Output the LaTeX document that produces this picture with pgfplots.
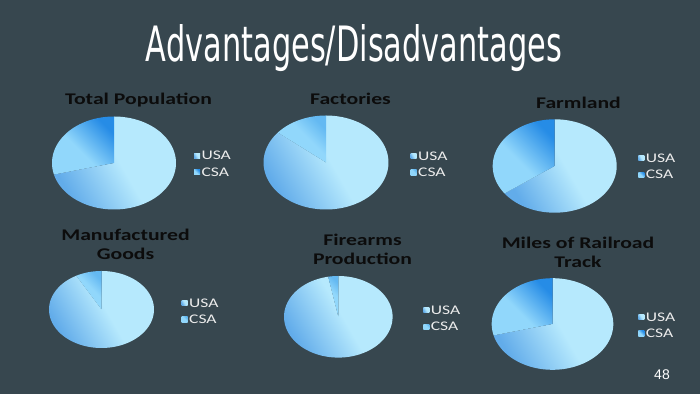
\documentclass[border=0pt]{standalone}
\usepackage{pgfplots}
\pgfplotsset{compat=1.18}
\usepackage{fontspec}
\setmainfont{Carlito}
\newfontfamily\titlefont{DejaVu Sans}
\newfontfamily\numfont{Liberation Sans}
\definecolor{bg}{RGB}{55,71,79}
\definecolor{usaL}{RGB}{182,233,253}
\definecolor{usaD}{RGB}{98,172,234}
\definecolor{csaD}{RGB}{38,140,230}
\definecolor{csaM}{RGB}{100,185,242}
\definecolor{csaL}{RGB}{145,215,251}
\definecolor{ttl}{RGB}{12,12,12}
\definecolor{legtxt}{RGB}{236,236,236}

\pgfdeclarehorizontalshading{usashade}{100bp}{color(0bp)=(usaD); color(25bp)=(usaD); color(52bp)=(usaL); color(100bp)=(usaL)}
\pgfdeclarehorizontalshading{csashade}{100bp}{color(0bp)=(csaL); color(45bp)=(csaL); color(75bp)=(csaD); color(100bp)=(csaD)}
\pgfdeclarehorizontalshading{csasmallshade}{100bp}{color(0bp)=(csaL); color(55bp)=(csaL); color(75bp)=(csaM); color(100bp)=(csaM)}

\pgfplotsset{
  piestyle/.style={hide axis, scale only axis, xmin=-1, xmax=1, ymin=-1, ymax=1,
    anchor=center, clip=false,
    legend cell align=left,
    legend image code/.code={\path[##1] (0bp,-2.6bp) rectangle (6bp,2.6bp);},
    legend style={draw=none, fill=none, text=legtxt, anchor=west, inner sep=0pt,
      outer sep=0pt, row sep=8bp,
      font=\fontsize{13.2bp}{15bp}\selectfont,
      nodes={inner sep=0pt, text height=8.5bp, text depth=0bp},
      column sep=1.5bp},
  },
  usa/.style={draw=none, shade, shading=usashade, shading angle=30},
  csa/.style={draw=none, shade, shading=csashade, shading angle=45},
  csasmall/.style={draw=none, shade, shading=csasmallshade, shading angle=45},
}

% #1 cx, #2 cy, #3 rx, #4 ry (pixels), #5 USA %, #6 CSA %, #7 legend x, #8 legend mid y
\newcommand\pie[8]{%
  \pgfmathsetmacro\W{2*#3}%
  \pgfmathsetmacro\H{2*#4}%
  \pgfmathsetmacro\LX{(#7-(#1-#3))/(2*#3)}%
  \pgfmathsetmacro\LY{(#2+#4-#8)/(2*#4)}%
  \pgfmathsetmacro\UA{90-3.6*#5}%
  \pgfmathsetmacro\CB{90+3.6*#6}%
  \pgfmathtruncatemacro\small{#6<20 ? 1 : 0}%
  \ifnum\small=1 \def\cstyle{csasmall}\else\def\cstyle{csa}\fi
  \begin{axis}[piestyle, at={(#1bp,394bp-#2bp)}, width=\W bp, height=\H bp,
      legend style={at={(\LX,\LY)}}]
    \addplot[usa, domain=\UA:90, samples=90, variable=\t]
      ({cos(t)},{sin(t)}) -- (axis cs:0,0) -- cycle;
    \addlegendentry{\scalebox{1.33}[1]{USA}}
    \addplot[\cstyle, domain=90:\CB, samples=60, variable=\t]
      ({cos(t)},{sin(t)}) -- (axis cs:0,0) -- cycle;
    \addlegendentry{\scalebox{1.33}[1]{CSA}}
  \end{axis}%
}

\newcommand\ptitle[3]{%
  \node[anchor=base, text=ttl, inner sep=0pt,
    font=\fontsize{16.3bp}{19bp}\selectfont\bfseries] at (#1bp,394bp-#2bp)
    {\scalebox{1.33}[1]{\begin{tabular}[t]{@{}c@{}}#3\end{tabular}}};%
}

\begin{document}
\begin{tikzpicture}
  \fill[bg] (0,0) rectangle (700bp,394bp);
  \useasboundingbox (0,0) rectangle (700bp,394bp);

  \node[anchor=base, text=white, inner sep=0pt] at (354bp,394bp-61.7bp)
    {\resizebox{416bp}{37bp}{\titlefont Advantages/Disadvantages}};

  \pie{114}{163}{62}{46.5}{71}{29}{194}{164}
  \pie{326}{162.5}{62.5}{47}{86}{14}{410.7}{164.2}
  \pie{554.7}{166}{62}{46.7}{65}{35}{638.3}{166.4}
  \pie{101.5}{309.5}{52.5}{38.5}{92}{8}{181.7}{311.3}
  \pie{338.3}{316.8}{54.3}{40.8}{97}{3}{423.3}{318.4}
  \pie{552.5}{324}{60.8}{45.8}{71}{29}{638.3}{325.3}

  \ptitle{138.5}{104.3}{Total Population}
  \ptitle{350.5}{104.8}{Factories}
  \ptitle{578.5}{108.3}{Farmland}
  \ptitle{125.5}{240.7}{Manufactured\\Goods}
  \ptitle{362.5}{246}{Firearms\\Production}
  \ptitle{578}{248.3}{Miles of Railroad\\Track}

  \node[anchor=base, text=white, inner sep=0pt,
    font=\fontsize{14bp}{16bp}\selectfont\numfont] at (662bp,394bp-379bp) {48};
\end{tikzpicture}
\end{document}
